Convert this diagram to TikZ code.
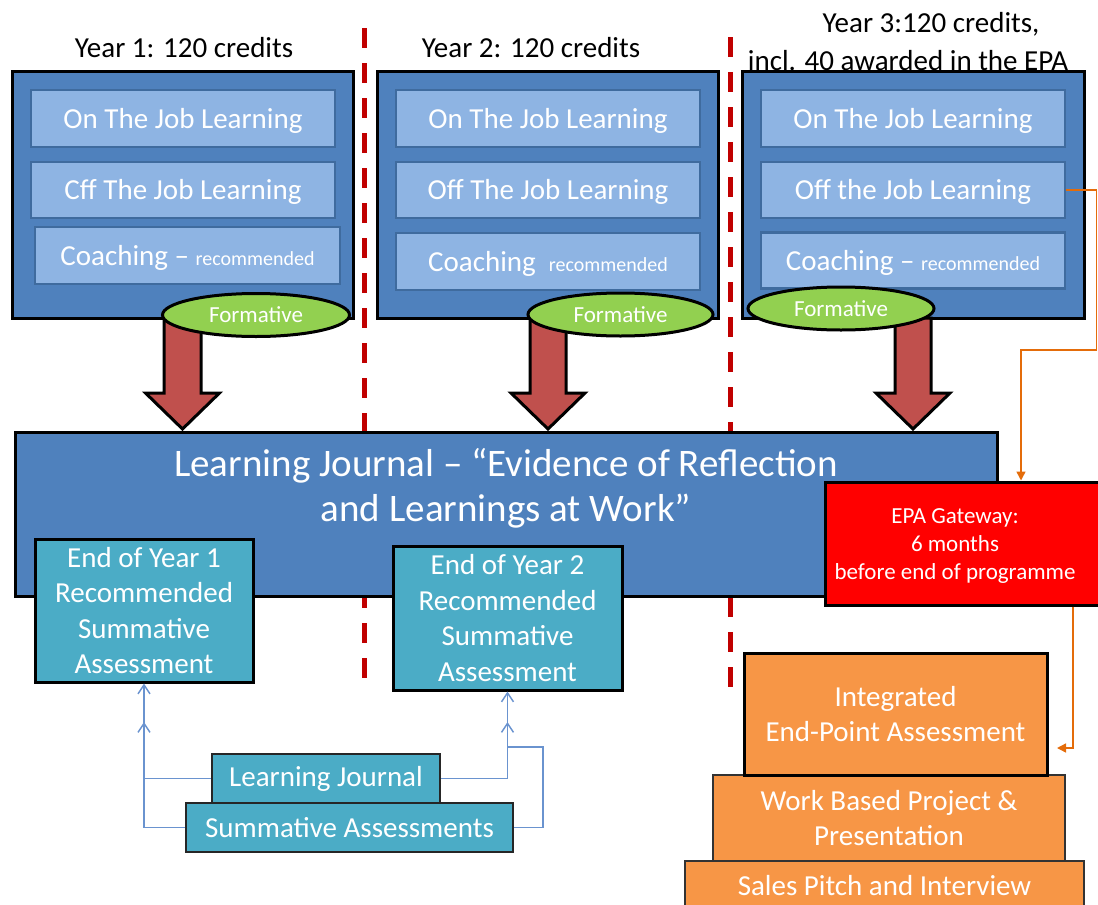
\documentclass[tikz,border=0pt]{standalone}
\usepackage{fontspec}
\setmainfont{Carlito}
\usetikzlibrary{arrows.meta,shapes.geometric}
\definecolor{blueA}{HTML}{4F81BD}
\definecolor{blueL}{HTML}{8EB4E3}
\definecolor{blueE}{HTML}{3F6B9E}
\definecolor{tealB}{HTML}{4BACC6}
\definecolor{orangeB}{HTML}{F79646}
\definecolor{orangeL}{HTML}{E46C0A}
\definecolor{redA}{HTML}{C0504D}
\definecolor{greenA}{HTML}{92D050}
\definecolor{dashred}{HTML}{C00000}
\definecolor{linkblue}{HTML}{6A93CF}
\newcommand\fsz[2]{\fontsize{#1}{#2}\selectfont}
\begin{document}
\begin{tikzpicture}[x=1pt,y=-1pt,
  title/.style={inner sep=0pt, font=\fsz{29}{37}, text=black},
  yearbox/.style={draw=black, line width=3pt, fill=blueA, inner sep=0pt},
  inbox/.style={draw=blueE, line width=2.5pt, fill=blueL, inner sep=0pt, text=white, font=\fsz{29}{35}, text height=19pt, text depth=0pt},
  formbox/.style={ellipse, draw=black, line width=3pt, fill=greenA, inner sep=0pt, text=white, font=\fsz{23}{27}, minimum height=43pt},
  blockarrow/.style={draw=black, line width=3pt, fill=redA, line join=miter},
  bigbox/.style={draw=black, line width=3pt, fill=blueA, inner sep=0pt},
  tealbox/.style={draw=black, line width=3pt, fill=tealB, inner sep=0pt, text=white, align=center, font=\fsz{29}{35.5}},
  smallteal/.style={draw=black!85, line width=2pt, fill=tealB, inner sep=0pt, text=white, font=\fsz{29}{35}},
  redbox/.style={draw=black, line width=3pt, fill=red, inner sep=0pt, text=white, align=center, font=\fsz{23}{28}},
  orbox/.style={fill=orangeB, inner sep=0pt, text=white, align=center, font=\fsz{29}{35}},
  reddash/.style={draw=dashred, line width=5pt, dash pattern=on 20pt off 15pt},
  link/.style={draw=linkblue, line width=1.5pt, -{Straight Barb[length=9pt,width=12pt,line width=1.5pt]}},
  olink/.style={draw=orangeL, line width=1.5pt, -{Triangle[length=9pt,width=9pt]}}
]
\useasboundingbox (0,0) rectangle (1098,905);

% dashed separators
\draw[reddash] (364,28) -- (364,685);
\draw[reddash] (730,37) -- (730,690);

% titles
\node[title] (t1) at (184,48) {Year 1: 120 credits};
\node[title] (t2) at (531,48) {Year 2: 120 credits};
\node[title] (t3a) at (931,24) {Year 3:120 credits,};
\node[title] (t3b) at (908,61) {incl. 40 awarded in the EPA};

% year containers
\node[yearbox, minimum width=341pt, minimum height=247pt] (y1) at (182.5,194.5) {};
\node[yearbox, minimum width=341pt, minimum height=247pt] (y2) at (547.5,194.5) {};
\node[yearbox, minimum width=342pt, minimum height=247pt] (y3) at (913,194.5) {};

% inner boxes
\node[inbox, minimum width=304pt, minimum height=57pt] (y1a) at (183,118.5) {On The Job Learning};
\node[inbox, minimum width=304pt, minimum height=56pt] (y1b) at (183,190) {Cff The Job Learning};
\node[inbox, minimum width=305pt, minimum height=57pt] (y1c) at (187.5,255.5) {Coaching – {\fsz{20}{24}recommended}};

\node[inbox, minimum width=304pt, minimum height=57pt] (y2a) at (548,118.5) {On The Job Learning};
\node[inbox, minimum width=304pt, minimum height=56pt] (y2b) at (548,190) {Off The Job Learning};
\node[inbox, minimum width=304pt, minimum height=57pt] (y2c) at (548,261.5) {Coaching \ {\fsz{20}{24}recommended}};

\node[inbox, minimum width=304pt, minimum height=57pt] (y3a) at (913,118.5) {On The Job Learning};
\node[inbox, minimum width=304pt, minimum height=56pt] (y3b) at (913,190) {Off the Job Learning};
\node[inbox, minimum width=304pt, minimum height=56pt] (y3c) at (913,260.5) {Coaching – {\fsz{20}{24}recommended}};

% block arrows
\draw[blockarrow] (164,318) -- (201,318) -- (201,393) -- (219.5,393) -- (182.5,429) -- (145.5,393) -- (164,393) -- cycle;
\draw[blockarrow] (530,318) -- (566,318) -- (566,393) -- (585,393) -- (548,429) -- (511,393) -- (530,393) -- cycle;
\draw[blockarrow] (895,318) -- (931,318) -- (931,393) -- (950,393) -- (913,429) -- (876,393) -- (895,393) -- cycle;

% formative ellipses
\node[formbox, minimum width=187pt] (f1) at (256,315) {Formative};
\node[formbox, minimum width=185pt] (f2) at (620.5,314.5) {Formative};
\node[formbox, minimum width=186pt] (f3) at (841,308.5) {Formative};

% learning journal
\node[bigbox, minimum width=982pt, minimum height=164pt] (lj) at (506,514) {};
\node[text=white, align=center, inner sep=0pt, font=\fsz{39}{45}] (ljt) at (506,488) {Learning Journal – “Evidence of Reflection\\and Learnings at Work”};

% end of year
\node[tealbox, minimum width=218pt, minimum height=143pt] (eoy1) at (144,610.5) {End of Year 1\\Recommended\\Summative\\Assessment};
\node[tealbox, minimum width=229pt, minimum height=144pt] (eoy2) at (507.5,618) {End of Year 2\\Recommended\\Summative\\Assessment};

% EPA gateway
\node[redbox, minimum width=275pt, minimum height=123pt] (red) at (962.5,543.5) {};
\node[text=white, align=center, inner sep=0pt, font=\fsz{23}{28}] (redt) at (955,546) {EPA Gateway:\\6 months\\before end of programme};

% EPA pyramid
\node[orbox, draw=black!80, line width=1.5pt, minimum width=399pt, minimum height=50pt] (sales) at (884.5,886) {Sales Pitch and Interview};
\node[orbox, draw=black!80, line width=1.5pt, minimum width=352pt, minimum height=86pt] (work) at (889,818) {Work Based Project \& \\Presentation};
\node[orbox, draw=black, line width=3pt, minimum width=303pt, minimum height=122pt] (int) at (895.5,714) {Integrated\\End-Point Assessment};

% bottom assessment boxes
\node[smallteal, minimum width=228pt, minimum height=49pt] (ljb) at (326,778.5) {Learning Journal};
\node[smallteal, minimum width=327pt, minimum height=49pt] (sab) at (349.5,827.5) {Summative Assessments};

% blue connectors
\coordinate (c1) at (144,722);
\coordinate (c2) at (543,747);
\coordinate (c3) at (507.5,722);
\draw[link] (ljb.west) -| (eoy1.south);
\draw[link] (sab.west) -| (c1);
\draw[link] (ljb.east) -| (eoy2.south);
\draw[link] (sab.east) -| (c2) -| (c3);

% orange connectors
\coordinate (o1) at (1021,350);
\coordinate (o2) at (1073,748);
\coordinate (o3) at (1057,748);
\draw[olink] (y3b.east) -- ++(30,0) |- (o1) -- (o1 |- red.north);
\draw[olink] (o2 |- red.south) -- (o2) -- (o3);
\end{tikzpicture}
\end{document}
